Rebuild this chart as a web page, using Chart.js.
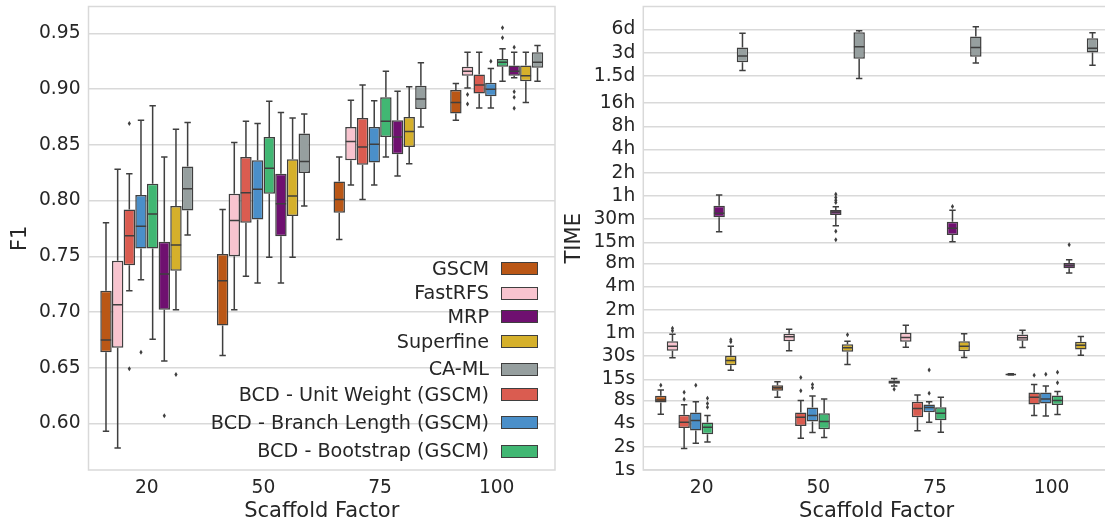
<!DOCTYPE html>
<html>
<head>
<meta charset="utf-8">
<script src="https://cdn.jsdelivr.net/npm/chart.js@4.4.1/dist/chart.umd.min.js"></script>
<style>
html,body{margin:0;padding:0;width:1105px;height:524px;overflow:hidden;background:#ffffff;font-family:"DejaVu Sans",sans-serif;}
#c1{position:absolute;left:0;top:0;}
#c2{position:absolute;left:555px;top:0;}
.lgrow{position:absolute;left:0;width:1105px;height:0;}
.lgtext{position:absolute;right:616px;white-space:nowrap;font-size:19.2px;line-height:20px;color:#262626;}
.lgpatch{position:absolute;left:501px;width:35px;height:11px;border:1.2px solid #3f3f3f;}
</style>
</head>
<body>
<canvas id="c1" width="557" height="524"></canvas>
<canvas id="c2" width="560" height="524"></canvas>
<div id="legend"></div>
<script>
// ---------------- DATA ----------------
const categories = ['20', '50', '75', '100'];
const seriesNames = ['GSCM', 'FastRFS', 'BCD - Unit Weight (GSCM)', 'BCD - Branch Length (GSCM)', 'BCD - Bootstrap (GSCM)', 'MRP', 'Superfine', 'CA-ML'];
const seriesColors = ['#ba5716', '#f8c4cf', '#da5c50', '#4a8fc9', '#41b773', '#6f1070', '#d5b02b', '#969f9f'];
const legendOrder = ['GSCM', 'FastRFS', 'MRP', 'Superfine', 'CA-ML', 'BCD - Unit Weight (GSCM)', 'BCD - Branch Length (GSCM)', 'BCD - Bootstrap (GSCM)'];

const f1Ticks = [0.60, 0.65, 0.70, 0.75, 0.80, 0.85, 0.90, 0.95];
const timeTickValues = [1, 2, 4, 8, 15, 30, 60, 120, 240, 480, 900, 1800, 3600, 7200, 14400, 28800, 57600, 129600, 259200, 518400];
const timeTickLabels = ['1s', '2s', '4s', '8s', '15s', '30s', '1m', '2m', '4m', '8m', '15m', '30m', '1h', '2h', '4h', '8h', '16h', '1.5d', '3d', '6d'];

// F1: per category [whiskerLow, q1, median, q3, whiskerHigh]
const f1_GSCM      = [[0.593, 0.664, 0.675, 0.719, 0.780], [0.661, 0.688, 0.728, 0.752, 0.792], [0.765, 0.789, 0.801, 0.817, 0.839], [0.872, 0.878, 0.888, 0.899, 0.905]];
const f1_FastRFS   = [[0.578, 0.668, 0.7065, 0.746, 0.828], [0.702, 0.750, 0.782, 0.806, 0.852], [0.814, 0.836, 0.853, 0.866, 0.890], [0.901, 0.912, 0.916, 0.920, 0.933]];
const f1_BCDUnit   = [[0.719, 0.742, 0.7685, 0.792, 0.824], [0.732, 0.780, 0.807, 0.839, 0.871], [0.801, 0.832, 0.848, 0.874, 0.9035], [0.883, 0.896, 0.9035, 0.913, 0.933]];
const f1_BCDBranch = [[0.729, 0.757, 0.777, 0.805, 0.872], [0.726, 0.783, 0.810, 0.836, 0.869], [0.814, 0.834, 0.8505, 0.866, 0.8895], [0.883, 0.8934, 0.8997, 0.9056, 0.9184]];
const f1_BCDBoot   = [[0.6755, 0.757, 0.788, 0.815, 0.885], [0.749, 0.806, 0.829, 0.857, 0.889], [0.839, 0.857, 0.871, 0.8925, 0.916], [0.907, 0.920, 0.924, 0.927, 0.936]];
const f1_MRP       = [[0.656, 0.702, 0.734, 0.763, 0.839], [0.726, 0.768, 0.797, 0.824, 0.879], [0.822, 0.8415, 0.857, 0.872, 0.898], [0.910, 0.912, 0.916, 0.921, 0.933]];
const f1_Superfine = [[0.702, 0.737, 0.760, 0.795, 0.864], [0.749, 0.786, 0.804, 0.837, 0.874], [0.833, 0.848, 0.862, 0.875, 0.902], [0.888, 0.907, 0.912, 0.921, 0.933]];
const f1_CAML      = [[0.769, 0.791, 0.8105, 0.8305, 0.870], [0.795, 0.8246, 0.835, 0.860, 0.8776], [0.866, 0.882, 0.891, 0.903, 0.9235], [0.907, 0.919, 0.924, 0.933, 0.939]];

const f1Out_GSCM      = [[], [], [], []];
const f1Out_FastRFS   = [[], [], [], [0.895, 0.8865]];
const f1Out_BCDUnit   = [[0.869, 0.649], [], [], []];
const f1Out_BCDBranch = [[0.664], [], [], [0.925]];
const f1Out_BCDBoot   = [[], [], [], [0.955, 0.946]];
const f1Out_MRP       = [[0.607], [], [], [0.9375, 0.8975, 0.8925, 0.8827]];
const f1Out_Superfine = [[0.644], [], [], []];
const f1Out_CAML      = [[], [], [], []];

// TIME (seconds): per category [whiskerLow, q1, median, q3, whiskerHigh]
const t_GSCM      = [[5.3, 7.5, 8.1, 9.2, 10.9], [8.8, 10.7, 11.7, 12.6, 14], [12.3, 13.2, 13.8, 14.5, 15.4], [17.1, 17.3, 17.4, 17.5, 17.7]];
const t_FastRFS   = [[28.6, 35.2, 40.4, 46.8, 57.7], [35.2, 46.8, 53.4, 58.8, 66.9], [39.2, 46, 52.3, 60.6, 75.5], [38.8, 47.4, 51.9, 57.2, 65]];
const t_BCDUnit   = [[1.9, 3.5, 4.17, 5.2, 7.0], [2.59, 3.73, 4.84, 5.56, 7.96], [3.22, 4.84, 6.3, 7.7, 9.4], [5.1, 7.1, 8.77, 10.1, 12.9]];
const t_BCDBranch = [[2.23, 3.25, 4.38, 5.56, 7.7], [3.07, 4.26, 5.1, 6.46, 9.1], [4.17, 5.6, 6.46, 7.1, 7.7], [5.03, 7.27, 8.34, 10.1, 12.3]];
const t_BCDBoot   = [[2.3, 2.92, 3.6, 4.13, 5.1], [2.64, 3.39, 4.26, 5.45, 8.34], [3.1, 4.43, 5.45, 6.5, 8.77], [5.24, 6.98, 7.96, 9.23, 10.4]];
const t_MRP       = [[1235, 1897, 2150, 2680, 3690], [1477, 2030, 2220, 2370, 2600], [917, 1120, 1370, 1663, 2350], [359, 416, 449, 487, 533]];
const t_Superfine = [[19.7, 22.9, 26.4, 30.3, 40.4], [23.4, 34.1, 38.5, 42.8, 46.8], [28.8, 34.8, 40.4, 46.8, 58.8], [30.9, 36.5, 41.6, 46, 53.8]];
const t_CAML      = [[152600, 194600, 236000, 303000, 465000], [120500, 217000, 311000, 478000, 502000], [190600, 231000, 303000, 420000, 565000], [179000, 262000, 297000, 400000, 473000]];

const tOut_GSCM      = [[12.6], [], [11.2], []];
const tOut_FastRFS   = [[64, 69], [], [], []];
const tOut_BCDUnit   = [[8.3, 10.2], [10.7, 15.8], [], [17]];
const tOut_BCDBranch = [[12.6], [11.7, 12.9], [9.87, 19.8], [17.5]];
const tOut_BCDBoot   = [[6.5, 7.3, 8.5], [], [], [13.6, 18.5]];
const tOut_MRP       = [[], [3790, 3440, 3170, 2960, 1250, 975], [2630], [838]];
const tOut_Superfine = [[46, 49], [57], [], []];
const tOut_CAML      = [[], [], [], []];

const f1Stats = [f1_GSCM, f1_FastRFS, f1_BCDUnit, f1_BCDBranch, f1_BCDBoot, f1_MRP, f1_Superfine, f1_CAML];
const f1Outliers = [f1Out_GSCM, f1Out_FastRFS, f1Out_BCDUnit, f1Out_BCDBranch, f1Out_BCDBoot, f1Out_MRP, f1Out_Superfine, f1Out_CAML];
const tStats = [t_GSCM, t_FastRFS, t_BCDUnit, t_BCDBranch, t_BCDBoot, t_MRP, t_Superfine, t_CAML];
const tOutliers = [tOut_GSCM, tOut_FastRFS, tOut_BCDUnit, tOut_BCDBranch, tOut_BCDBoot, tOut_MRP, tOut_Superfine, tOut_CAML];

// ---------------- STYLE ----------------
const EDGE = '#3f3f3f';
const TEXT = '#262626';
const GRID = '#d9d9d9';
const FONT = '"DejaVu Sans", sans-serif';

const boxPlugin = {
  id: 'boxWhiskers',
  afterDatasetsDraw(chart) {
    const ctx = chart.ctx, ys = chart.scales.y;
    const py = v => ys.getPixelForValue(v);
    chart.data.datasets.forEach((ds, i) => {
      const meta = chart.getDatasetMeta(i);
      meta.data.forEach((bar, j) => {
        const s = ds.stats[j];
        if (!s) return;
        const x = bar.x, w = bar.width, half = w / 2 - 0.5, cap = w * 0.28;
        ctx.save();
        ctx.strokeStyle = EDGE;
        ctx.lineWidth = 1.5;
        ctx.lineCap = 'butt';
        ctx.beginPath();
        ctx.moveTo(x, py(s[3])); ctx.lineTo(x, py(s[4]));
        ctx.moveTo(x, py(s[1])); ctx.lineTo(x, py(s[0]));
        ctx.moveTo(x - cap, py(s[4])); ctx.lineTo(x + cap, py(s[4]));
        ctx.moveTo(x - cap, py(s[0])); ctx.lineTo(x + cap, py(s[0]));
        ctx.moveTo(x - half, py(s[2])); ctx.lineTo(x + half, py(s[2]));
        ctx.stroke();
        ctx.fillStyle = EDGE;
        (ds.outliers[j] || []).forEach(v => {
          const oy = py(v);
          ctx.beginPath();
          ctx.moveTo(x, oy - 2.5); ctx.lineTo(x + 1.6, oy); ctx.lineTo(x, oy + 2.5); ctx.lineTo(x - 1.6, oy);
          ctx.closePath();
          ctx.fill();
        });
        ctx.restore();
      });
    });
  }
};

const framePlugin = {
  id: 'frame',
  afterDraw(chart) {
    const a = chart.chartArea, ctx = chart.ctx;
    ctx.save();
    ctx.strokeStyle = GRID;
    ctx.lineWidth = 1.5;
    ctx.strokeRect(a.left, a.top, a.right - a.left, a.bottom - a.top);
    ctx.restore();
  }
};

function makeDatasets(stats, outliers) {
  return seriesNames.map((name, i) => ({
    label: name,
    data: stats[i].map(s => [s[1], s[3]]),
    stats: stats[i],
    outliers: outliers[i],
    backgroundColor: seriesColors[i],
    borderColor: EDGE,
    borderWidth: 1.5,
    borderSkipped: false,
    categoryPercentage: 0.8,
    barPercentage: 0.98
  }));
}

function xScale() {
  return {
    type: 'category',
    grid: { display: false, drawTicks: false },
    border: { display: false },
    ticks: { font: { family: FONT, size: 18.67 }, color: TEXT, padding: 7 },
    title: { display: true, text: 'Scaffold Factor', font: { family: FONT, size: 21 }, color: TEXT, padding: { top: 0, bottom: 0 } },
    afterFit(s) { s.height = 54; s.paddingLeft = 0; s.paddingRight = 0; }
  };
}

Chart.defaults.animation = false;

new Chart(document.getElementById('c1'), {
  type: 'bar',
  data: { labels: categories, datasets: makeDatasets(f1Stats, f1Outliers) },
  plugins: [boxPlugin, framePlugin],
  options: {
    responsive: false,
    animation: false,
    layout: { padding: { left: 0, top: 6.5, right: 2, bottom: 0 } },
    plugins: { legend: { display: false }, tooltip: { enabled: false } },
    scales: {
      x: xScale(),
      y: {
        type: 'linear',
        min: 0.5583, max: 0.974,
        grid: { color: GRID, lineWidth: 1.5, drawTicks: false },
        border: { display: false },
        ticks: { font: { family: FONT, size: 18.67 }, color: TEXT, padding: 8, autoSkip: false, callback: v => Number(v).toFixed(2) },
        afterBuildTicks(s) { s.ticks = f1Ticks.map(v => ({ value: v })); },
        title: { display: true, text: 'F1', font: { family: FONT, size: 21 }, color: TEXT, padding: { top: 8, bottom: 0 } },
        afterFit(s) { s.width = 88.5; s.paddingTop = 0; s.paddingBottom = 0; }
      }
    }
  }
});

new Chart(document.getElementById('c2'), {
  type: 'bar',
  data: { labels: categories, datasets: makeDatasets(tStats, tOutliers) },
  plugins: [boxPlugin, framePlugin],
  options: {
    responsive: false,
    animation: false,
    layout: { padding: { left: 0, top: 6.5, right: 5, bottom: 0 } },
    plugins: { legend: { display: false }, tooltip: { enabled: false } },
    scales: {
      x: xScale(),
      y: {
        type: 'logarithmic',
        min: 1, max: 1.033e6,
        grid: { color: GRID, lineWidth: 1.5, drawTicks: false },
        border: { display: false },
        ticks: {
          font: { family: FONT, size: 18.67 }, color: TEXT, padding: 8, autoSkip: false,
          callback: v => { const k = timeTickValues.indexOf(v); return k >= 0 ? timeTickLabels[k] : ''; }
        },
        afterBuildTicks(s) { s.ticks = timeTickValues.map(v => ({ value: v })); },
        title: { display: true, text: 'TIME', font: { family: FONT, size: 21 }, color: TEXT, padding: { top: 7.4, bottom: 0 } },
        afterFit(s) { s.width = 88.3; s.paddingTop = 0; s.paddingBottom = 0; }
      }
    }
  }
});

// ---------------- LEGEND (HTML text) ----------------
const legendRowCenters = [268.8, 293.3, 316.7, 341.7, 369.2, 394.7, 423, 451.2];
const legendEl = document.getElementById('legend');
legendOrder.forEach((name, k) => {
  const i = seriesNames.indexOf(name);
  const c = legendRowCenters[k];
  const row = document.createElement('div');
  row.className = 'lgrow';
  row.style.top = c + 'px';
  const t = document.createElement('span');
  t.className = 'lgtext';
  t.textContent = name;
  t.style.top = '-10.2px';
  const p = document.createElement('span');
  p.className = 'lgpatch';
  p.style.top = '-6.7px';
  p.style.background = seriesColors[i];
  row.appendChild(t);
  row.appendChild(p);
  legendEl.appendChild(row);
});
</script>
</body>
</html>
